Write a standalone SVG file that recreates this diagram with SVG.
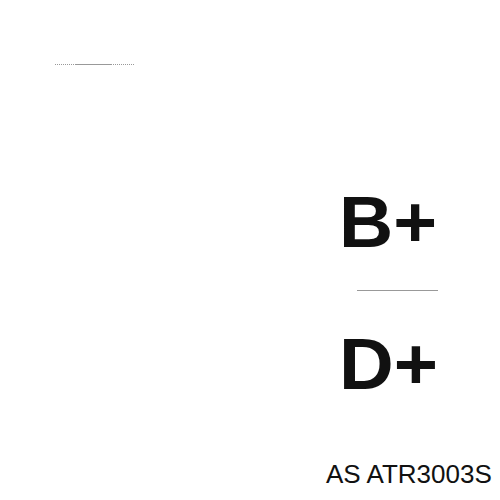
<svg xmlns="http://www.w3.org/2000/svg" width="500" height="500" viewBox="0 0 500 500">
<style>
.big{font-family:"Liberation Sans",Arial,sans-serif;font-weight:bold;font-size:72px;fill:#111}
.lbl{font-family:"Liberation Sans",Arial,sans-serif;font-size:26px;fill:#111}
.ln{stroke:#999;stroke-width:1}
</style>
<rect width="500" height="500" fill="#fff"/>
<g id="connectors">
<line class="ln" x1="55" y1="64.5" x2="135" y2="64.5" stroke-dasharray="1,1"/>
<line class="ln" x1="76" y1="64.5" x2="112" y2="64.5"/>
<line class="ln" x1="357" y1="290.5" x2="438" y2="290.5"/>
</g>
<g id="bplus"><text class="big" x="339" y="247" textLength="98" lengthAdjust="spacingAndGlyphs">B+</text></g>
<g id="dplus"><text class="big" x="339" y="389" textLength="99" lengthAdjust="spacingAndGlyphs">D+</text></g>
<g id="label"><text class="lbl" x="326" y="483">AS ATR3003S</text></g>
</svg>
